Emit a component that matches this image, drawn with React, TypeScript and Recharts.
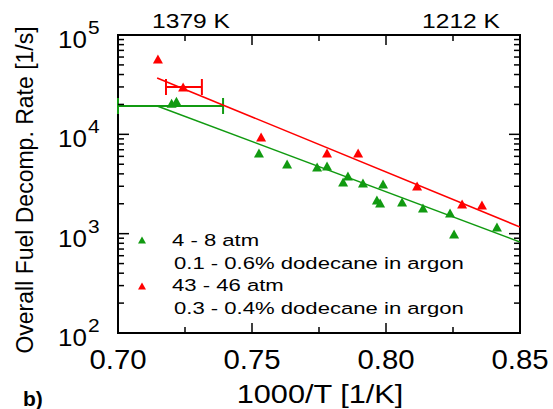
import React from 'react';
import { ComposedChart, Scatter, XAxis, YAxis, ReferenceArea, ErrorBar } from 'recharts';

const W = 553;
const H = 409;
const PLOT = { left: 118, top: 35, right: 520, bottom: 333 };
const FONT = '"Liberation Sans", Arial, sans-serif';
const GREEN = '#119a11';
const RED = '#ff0000';

// 4 - 8 atm, 0.1 - 0.6% dodecane in argon
const lowPX = [0.72, 0.7218, 0.7526, 0.7631, 0.7743, 0.778, 0.784, 0.7858, 0.7914, 0.7989, 0.7966, 0.7978, 0.806, 0.8138, 0.8239, 0.8254, 0.8414];
const lowPRate = [20500, 21500, 6490, 5030, 4690, 4800, 3310, 3805, 3236, 3160, 2183, 2035, 2084, 1813, 1614, 993, 1167];

// 43 - 46 atm, 0.3 - 0.4% dodecane in argon
const highPX = [0.7149, 0.7243, 0.7534, 0.778, 0.7896, 0.8116, 0.8284, 0.8358];
const highPRate = [57300, 29960, 9400, 6490, 6490, 3020, 1990, 1944];

// Arrhenius fits (end points)
const lowFitX = [0.7146, 0.85];
const lowFitRate = [19290, 824];
const highFitX = [0.7146, 0.85];
const highFitRate = [36900, 1167];

// horizontal uncertainty bars
const lowErr = [{ x: 0.7196, y: 19300, ex: 0.0196 }];
const highErr = [{ x: 0.7246, y: 29960, ex: 0.0067 }];

const xTicks = [0.7, 0.725, 0.75, 0.775, 0.8, 0.825, 0.85];
const yTicks = [
  100, 200, 300, 400, 500, 600, 700, 800, 900,
  1000, 2000, 3000, 4000, 5000, 6000, 7000, 8000, 9000,
  10000, 20000, 30000, 40000, 50000, 60000, 70000, 80000, 90000,
  100000,
];
const topLabels = ['1379 K', '1212 K'];
const legendLines = ['4 - 8 atm', '0.1 - 0.6% dodecane in argon', '43 - 46 atm', '0.3 - 0.4% dodecane in argon'];

const zip = (xs: number[], ys: number[]) => xs.map((x, i) => ({ x, y: ys[i] }));

const Txt = ({ x, y, size, sx = 1, anchor = 'start', weight, rotate, children }: any) => (
  <text
    transform={`translate(${x},${y}) ${rotate ? `rotate(${rotate})` : ''} scale(${sx},1)`}
    textAnchor={anchor}
    fontSize={size}
    fontFamily={FONT}
    fontWeight={weight}
    fill="#000"
  >
    {children}
  </text>
);

const triangle = (color: string) => (props: any) => {
  const { cx, cy } = props;
  if (cx == null || cy == null) return <g />;
  return <polygon points={`${cx},${cy - 4.5} ${cx - 5},${cy + 4.5} ${cx + 5},${cy + 4.5}`} fill={color} />;
};

const XTick = (props: any) => {
  const { x, payload } = props;
  const v = payload.value;
  const major = Math.round(v * 1000) % 50 === 0;
  const len = major ? 10 : 6;
  return (
    <g>
      <line x1={x} y1={PLOT.bottom} x2={x} y2={PLOT.bottom - len} stroke="#000" strokeWidth={1.5} />
      <line x1={x} y1={PLOT.top} x2={x} y2={PLOT.top + len} stroke="#000" strokeWidth={1.5} />
      {major && (
        <Txt x={x} y={369} size={28} sx={1.05} anchor="middle">
          {v.toFixed(2)}
        </Txt>
      )}
    </g>
  );
};

const YTick = (props: any) => {
  const { y, payload } = props;
  const e = Math.log10(payload.value);
  const major = Math.abs(e - Math.round(e)) < 1e-6;
  const len = major ? 11 : 6;
  return (
    <g>
      <line x1={PLOT.left} y1={y} x2={PLOT.left + len} y2={y} stroke="#000" strokeWidth={1.5} />
      <line x1={PLOT.right} y1={y} x2={PLOT.right - len} y2={y} stroke="#000" strokeWidth={1.5} />
      {major && (
        <g>
          <Txt x={58} y={y + 13} size={24} sx={1.08}>10</Txt>
          <Txt x={88} y={y - 1} size={19} sx={1.1}>{Math.round(e)}</Txt>
        </g>
      )}
    </g>
  );
};

const LegendTri = ({ cx, cy, color }: any) => (
  <polygon points={`${cx},${cy - 3.5} ${cx - 4},${cy + 3.5} ${cx + 4},${cy + 3.5}`} fill={color} />
);

export default function App() {
  const hidden = () => <g />;
  return (
    <div style={{ position: 'absolute', left: 0, top: 0, width: W, height: H, background: '#fff' }}>
      <ComposedChart width={W} height={H} margin={{ top: PLOT.top, right: W - PLOT.right, bottom: 0, left: 0 }}>
        <XAxis
          type="number"
          dataKey="x"
          domain={[0.7, 0.85]}
          allowDataOverflow
          ticks={xTicks}
          interval={0}
          tick={<XTick />}
          tickLine={false}
          axisLine={false}
          tickSize={0}
          tickMargin={0}
          height={H - PLOT.bottom}
        />
        <YAxis
          type="number"
          dataKey="y"
          scale="log"
          domain={[100, 100000]}
          allowDataOverflow
          ticks={yTicks}
          interval={0}
          tick={<YTick />}
          tickLine={false}
          axisLine={false}
          tickSize={0}
          tickMargin={0}
          width={PLOT.left}
        />
        <ReferenceArea x1={0.7} x2={0.85} y1={100} y2={100000} fill="none" stroke="#000" strokeWidth={2} fillOpacity={0} />
        <Scatter data={zip(highFitX, highFitRate)} line={{ stroke: RED, strokeWidth: 1.5 }} shape={hidden} isAnimationActive={false} />
        <Scatter data={zip(lowFitX, lowFitRate)} line={{ stroke: GREEN, strokeWidth: 1.5 }} shape={hidden} isAnimationActive={false} />
        <Scatter data={lowErr} shape={hidden} isAnimationActive={false}>
          <ErrorBar dataKey="ex" direction="x" width={8} stroke={GREEN} strokeWidth={2} />
        </Scatter>
        <Scatter data={highErr} shape={hidden} isAnimationActive={false}>
          <ErrorBar dataKey="ex" direction="x" width={8} stroke={RED} strokeWidth={2} />
        </Scatter>
        <Scatter data={zip(lowPX, lowPRate)} shape={triangle(GREEN)} isAnimationActive={false} />
        <Scatter data={zip(highPX, highPRate)} shape={triangle(RED)} isAnimationActive={false} />
      </ComposedChart>
      <svg width={W} height={H} style={{ position: 'absolute', left: 0, top: 0, pointerEvents: 'none' }}>
        <Txt x={191} y={28} size={21} sx={1.17} anchor="middle">{topLabels[0]}</Txt>
        <Txt x={461} y={28} size={21} sx={1.17} anchor="middle">{topLabels[1]}</Txt>
        <Txt x={33} y={190} size={23} anchor="middle" rotate={-90}>Overall Fuel Decomp. Rate [1/s]</Txt>
        <Txt x={320} y={403} size={26} sx={1.18} anchor="middle">1000/T [1/K]</Txt>
        <Txt x={23} y={406} size={21} weight="bold">b)</Txt>
        <LegendTri cx={142} cy={240} color={GREEN} />
        <Txt x={172} y={246} size={17} sx={1.3}>{legendLines[0]}</Txt>
        <Txt x={174} y={269} size={17} sx={1.3}>{legendLines[1]}</Txt>
        <LegendTri cx={142} cy={286} color={RED} />
        <Txt x={172} y={291} size={17} sx={1.3}>{legendLines[2]}</Txt>
        <Txt x={174} y={314} size={17} sx={1.3}>{legendLines[3]}</Txt>
      </svg>
    </div>
  );
}
